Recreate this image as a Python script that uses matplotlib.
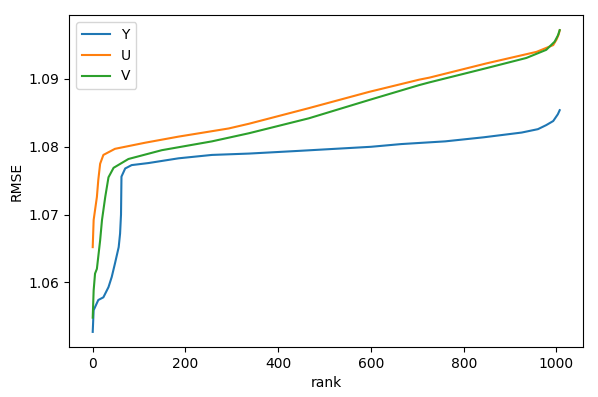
import matplotlib
matplotlib.use('Agg')
import matplotlib.pyplot as plt

# values (rank, RMSE)
rank_y = [0, 2, 12, 23, 34, 41, 48, 56, 59, 61, 62, 70, 84, 120, 185, 257, 337, 445,
          600, 665, 760, 843, 925, 960, 978, 993, 1003, 1007]
rmse_y = [1.0527, 1.0559, 1.0574, 1.0578, 1.0593, 1.0608, 1.0628, 1.0652, 1.0672, 1.0700, 1.0756,
          1.0768, 1.0773, 1.0776, 1.0783, 1.0788, 1.0790, 1.0794, 1.0800, 1.0804, 1.0808,
          1.0814, 1.0821, 1.0826, 1.0832, 1.0838, 1.0848, 1.0854]

rank_u = [0, 2, 9, 12, 16, 23, 48, 113, 185, 293, 337, 466, 596, 704, 726, 849, 957,
          993, 1000, 1005, 1007]
rmse_u = [1.0652, 1.0692, 1.0726, 1.0751, 1.0775, 1.0788, 1.0797, 1.0806, 1.0815, 1.0827,
          1.0834, 1.0857, 1.0881, 1.0899, 1.0902, 1.0923, 1.0940, 1.0950, 1.0958, 1.0966, 1.0972]

rank_v = [0, 2, 5, 9, 16, 20, 27, 34, 45, 77, 149, 257, 337, 466, 596, 704, 726, 849,
          935, 978, 996, 1003, 1007]
rmse_v = [1.0548, 1.0588, 1.0613, 1.0620, 1.0662, 1.0692, 1.0726, 1.0755, 1.0769, 1.0782,
          1.0795, 1.0808, 1.0820, 1.0842, 1.0869, 1.0891, 1.0895, 1.0916, 1.0931, 1.0943,
          1.0955, 1.0964, 1.0972]

fig = plt.figure(figsize=(5.98, 3.97), dpi=100)
ax = fig.add_axes([0.116, 0.126, 0.859, 0.836])

ax.plot(rank_y, rmse_y, label='Y')
ax.plot(rank_u, rmse_u, label='U')
ax.plot(rank_v, rmse_v, label='V')

ax.set_xlabel('rank')
ax.set_ylabel('RMSE')
ax.set_yticks([1.06, 1.07, 1.08, 1.09])
ax.legend(loc='upper left')

fig.savefig('out.png', dpi=100)
